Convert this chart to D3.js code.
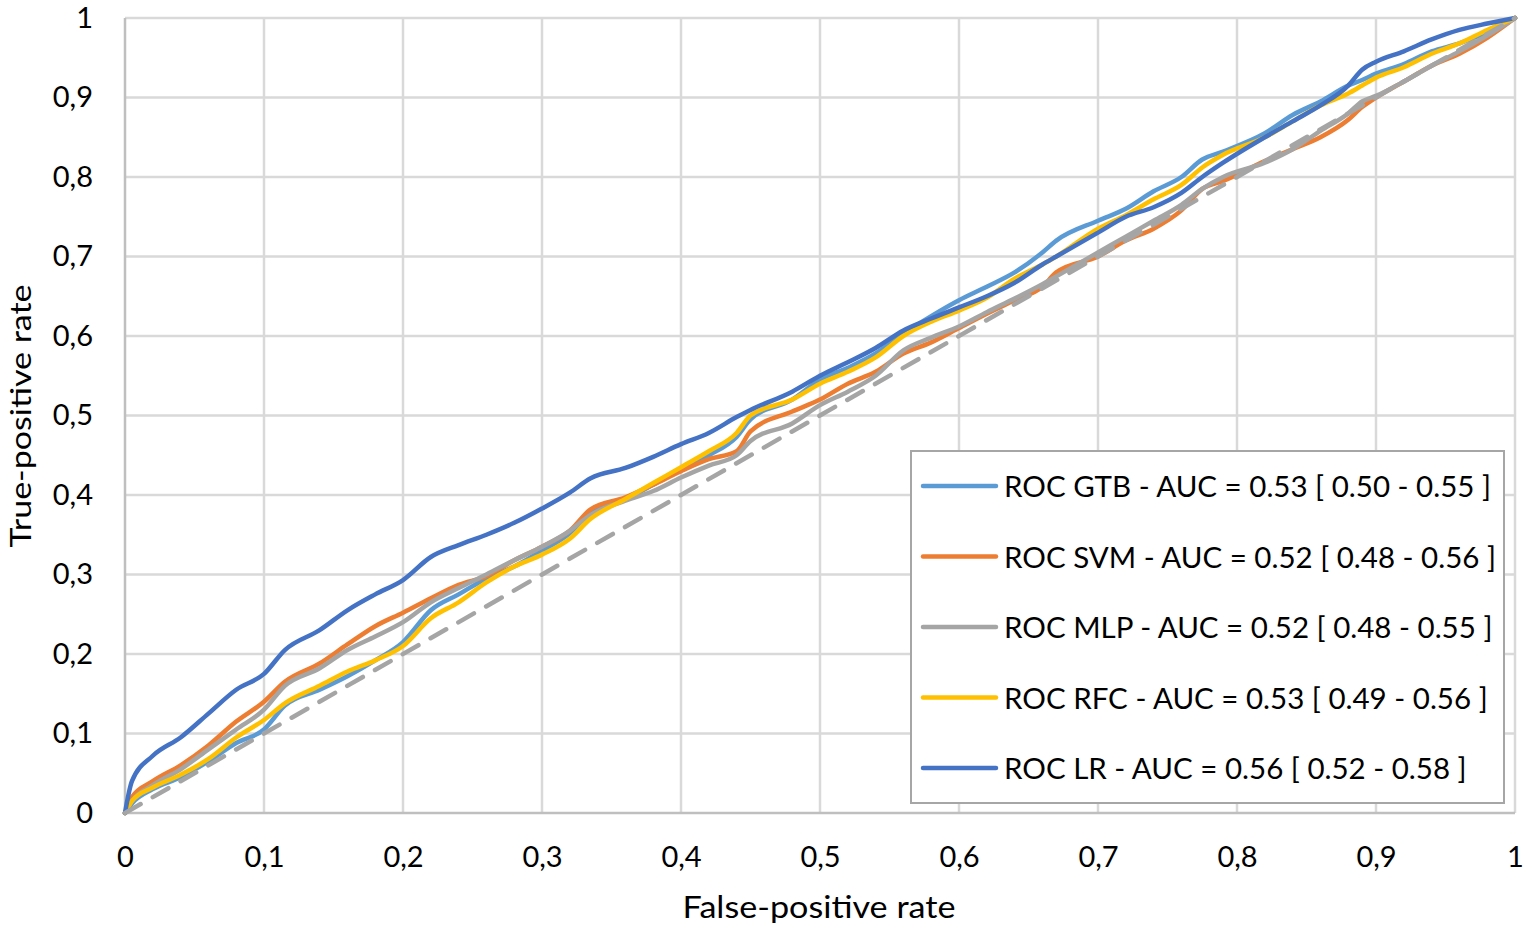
<!DOCTYPE html>
<html>
<head>
<meta charset="utf-8">
<script src="https://cdn.jsdelivr.net/npm/d3@7"></script>
<style>
  body { margin: 0; background: #fff; }
  svg text { font-family: Lato, "Open Sans", sans-serif; fill: #000; }
</style>
</head>
<body>
<div id="chart"></div>
<script>
// data

var fpr = [0, 0.005, 0.02, 0.04, 0.06, 0.08, 0.1, 0.115, 0.14, 0.16, 0.18, 0.2, 0.22, 0.24, 0.26, 0.28,
    0.3, 0.32, 0.335, 0.36, 0.38, 0.4, 0.42, 0.44, 0.45, 0.48, 0.5, 0.52, 0.54, 0.56, 0.58, 0.6,
    0.62, 0.64, 0.66, 0.67, 0.7, 0.72, 0.74, 0.76, 0.775, 0.79, 0.82, 0.84, 0.86, 0.88, 0.89, 0.9,
    0.92, 0.94, 0.96, 0.98, 1];

var tpr_gtb = [0, 0.012, 0.03, 0.045, 0.065, 0.088, 0.105, 0.135, 0.155, 0.172, 0.192, 0.215, 0.255, 0.275, 0.295, 0.31,
    0.33, 0.352, 0.378, 0.395, 0.413, 0.432, 0.45, 0.473, 0.495, 0.52, 0.545, 0.56, 0.578, 0.603, 0.625, 0.645,
    0.662, 0.68, 0.705, 0.72, 0.745, 0.76, 0.782, 0.8, 0.822, 0.832, 0.855, 0.878, 0.895, 0.915, 0.922, 0.93,
    0.942, 0.958, 0.968, 0.982, 1];

var tpr_svm = [0, 0.02, 0.04, 0.06, 0.085, 0.115, 0.14, 0.165, 0.188, 0.212, 0.235, 0.252, 0.27, 0.287, 0.298, 0.318,
    0.335, 0.355, 0.382, 0.397, 0.413, 0.43, 0.445, 0.455, 0.48, 0.505, 0.52, 0.54, 0.555, 0.578, 0.592, 0.61,
    0.628, 0.645, 0.662, 0.68, 0.7, 0.72, 0.735, 0.758, 0.785, 0.795, 0.82, 0.835, 0.85, 0.872, 0.888, 0.9,
    0.92, 0.94, 0.955, 0.975, 1];

var tpr_mlp = [0, 0.015, 0.035, 0.055, 0.08, 0.105, 0.13, 0.16, 0.182, 0.205, 0.222, 0.24, 0.265, 0.283, 0.3, 0.318,
    0.335, 0.355, 0.375, 0.393, 0.405, 0.422, 0.437, 0.45, 0.468, 0.49, 0.513, 0.53, 0.55, 0.582, 0.598, 0.612,
    0.63, 0.647, 0.665, 0.675, 0.705, 0.725, 0.745, 0.765, 0.785, 0.8, 0.818, 0.835, 0.858, 0.88, 0.895, 0.902,
    0.92, 0.94, 0.958, 0.978, 1];

var tpr_rfc = [0, 0.015, 0.032, 0.048, 0.068, 0.095, 0.117, 0.138, 0.16, 0.178, 0.192, 0.21, 0.245, 0.265, 0.29, 0.31,
    0.325, 0.345, 0.37, 0.395, 0.415, 0.435, 0.455, 0.478, 0.5, 0.52, 0.54, 0.555, 0.573, 0.6, 0.618, 0.632,
    0.648, 0.672, 0.69, 0.7, 0.735, 0.752, 0.772, 0.79, 0.812, 0.828, 0.85, 0.87, 0.89, 0.905, 0.915, 0.925,
    0.938, 0.955, 0.968, 0.985, 1];

var tpr_lr = [0, 0.04, 0.072, 0.095, 0.125, 0.155, 0.175, 0.205, 0.23, 0.255, 0.275, 0.293, 0.322, 0.337, 0.35, 0.365,
    0.383, 0.403, 0.421, 0.434, 0.448, 0.464, 0.478, 0.498, 0.507, 0.53, 0.55, 0.567, 0.585, 0.607, 0.622, 0.636,
    0.65, 0.667, 0.69, 0.7, 0.73, 0.75, 0.762, 0.78, 0.8, 0.818, 0.85, 0.87, 0.89, 0.915, 0.935, 0.945,
    0.958, 0.973, 0.985, 0.993, 1];

var diagonal = [[0, 0], [1, 1]];

var series_names = [
    "ROC GTB - AUC = 0.53 [ 0.50 - 0.55 ]",
    "ROC SVM - AUC = 0.52 [ 0.48 - 0.56 ]",
    "ROC MLP - AUC = 0.52 [ 0.48 - 0.55 ]",
    "ROC RFC - AUC = 0.53 [ 0.49 - 0.56 ]",
    "ROC LR - AUC = 0.56 [ 0.52 - 0.58 ]"
];
var series_tpr = [tpr_gtb, tpr_svm, tpr_mlp, tpr_rfc, tpr_lr];
var series_colors = ["#5B9BD5", "#ED7D31", "#A5A5A5", "#FFC000", "#4472C4"];

var ticks = [0, 0.1, 0.2, 0.3, 0.4, 0.5, 0.6, 0.7, 0.8, 0.9, 1];

// layout

var width = 1524, height = 934;
var margin = { left: 125, right: 9, top: 18, bottom: 121 };
var fs = 29;

var svg = d3.select("#chart").append("svg")
    .attr("width", width)
    .attr("height", height);

var x = d3.scaleLinear().domain([0, 1]).range([margin.left, width - margin.right]);
var y = d3.scaleLinear().domain([0, 1]).range([height - margin.bottom, margin.top]);

var fmt = function(d) { return d === 0 || d === 1 ? String(d) : String(d).replace(".", ","); };

// grid
svg.append("g")
    .selectAll("line.v")
    .data(ticks.slice(1))
  .enter().append("line")
    .attr("x1", x).attr("x2", x)
    .attr("y1", y(0)).attr("y2", y(1))
    .attr("stroke", "#D9D9D9").attr("stroke-width", 2.5);

svg.append("g")
    .selectAll("line.h")
    .data(ticks.slice(1))
  .enter().append("line")
    .attr("x1", x(0)).attr("x2", x(1))
    .attr("y1", y).attr("y2", y)
    .attr("stroke", "#D9D9D9").attr("stroke-width", 2.5);

// axes lines (left, bottom)
svg.append("line")
    .attr("x1", x(0)).attr("x2", x(0)).attr("y1", y(0)).attr("y2", y(1))
    .attr("stroke", "#BFBFBF").attr("stroke-width", 2.5);
svg.append("line")
    .attr("x1", x(0)).attr("x2", x(1)).attr("y1", y(0)).attr("y2", y(0))
    .attr("stroke", "#BFBFBF").attr("stroke-width", 2.5);

// tick labels via d3 axes, no domain / tick marks
var xAxis = svg.append("g")
    .attr("transform", "translate(0," + y(0) + ")")
    .call(d3.axisBottom(x).tickValues(ticks).tickFormat(fmt).tickSize(0).tickPadding(33));
var yAxis = svg.append("g")
    .attr("transform", "translate(" + (x(0) - 32) + ",0)")
    .call(d3.axisLeft(y).tickValues(ticks).tickFormat(fmt).tickSize(0).tickPadding(0));
[xAxis, yAxis].forEach(function(a) {
    a.select(".domain").remove();
    a.selectAll("text")
        .style("font-family", "Lato, 'Open Sans', sans-serif")
        .style("font-size", fs + "px")
        .attr("fill", "#000");
});

// axis titles
svg.append("text")
    .attr("x", 819).attr("y", 918)
    .attr("text-anchor", "middle")
    .attr("textLength", 273).attr("lengthAdjust", "spacingAndGlyphs")
    .style("font-size", "31px")
    .text("False-positive rate");
svg.append("text")
    .attr("transform", "translate(31,416) rotate(-90)")
    .attr("text-anchor", "middle")
    .attr("textLength", 263).attr("lengthAdjust", "spacingAndGlyphs")
    .style("font-size", "29px")
    .text("True-positive rate");

// curves
var line = d3.line()
    .x(function(d) { return x(d[0]); })
    .y(function(d) { return y(d[1]); })
    .curve(d3.curveMonotoneX);

var curves = series_tpr.map(function(t, i) {
    return { name: series_names[i], color: series_colors[i], pts: fpr.map(function(f, j) { return [f, t[j]]; }) };
});

svg.append("g")
    .selectAll("path")
    .data(curves)
  .enter().append("path")
    .attr("d", function(d) { return line(d.pts); })
    .attr("fill", "none")
    .attr("stroke", function(d) { return d.color; })
    .attr("stroke-width", 4.5)
    .attr("stroke-linejoin", "round")
    .attr("stroke-linecap", "round");

svg.append("path")
    .attr("d", d3.line().x(function(d) { return x(d[0]); }).y(function(d) { return y(d[1]); })(diagonal))
    .attr("fill", "none")
    .attr("stroke", "#A5A5A5")
    .attr("stroke-width", 4.5)
    .attr("stroke-dasharray", "18,14")
    .attr("stroke-linecap", "round");

// legend
var legend = svg.append("g");
legend.append("rect")
    .attr("x", 911).attr("y", 451)
    .attr("width", 593).attr("height", 352)
    .attr("fill", "#fff")
    .attr("stroke", "#A6A6A6").attr("stroke-width", 2);

var items = legend.selectAll("g.item")
    .data(curves)
  .enter().append("g")
    .attr("transform", function(d, i) { return "translate(0," + (486 + i * 70.5) + ")"; });
items.append("line")
    .attr("x1", 923).attr("x2", 996)
    .attr("stroke", function(d) { return d.color; })
    .attr("stroke-width", 4.5)
    .attr("stroke-linecap", "round");
items.append("text")
    .attr("x", 1004).attr("y", 11)
    .style("font-size", "29.5px")
    .text(function(d) { return d.name; });
</script>
</body>
</html>
